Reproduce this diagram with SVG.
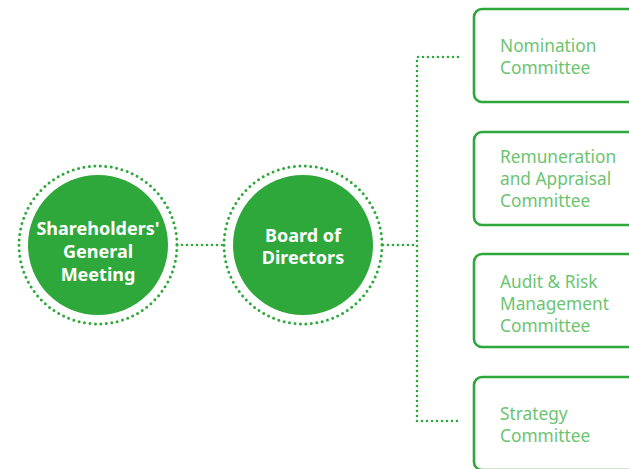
<svg xmlns="http://www.w3.org/2000/svg" width="629" height="469" viewBox="0 0 629 469">
<style>
.ring{fill:none;stroke:#2ea83a;stroke-width:3;stroke-linecap:round;stroke-dasharray:0 5.5}
.disc{fill:#2ea83a}
.ct{font-family:"Noto Sans","DejaVu Sans",sans-serif;font-weight:bold;font-size:18px;fill:#ffffff;text-anchor:middle}
.box{fill:#ffffff;stroke:#2ea83a;stroke-width:2.6}
.bt{font-family:"Noto Sans","DejaVu Sans",sans-serif;font-size:17.3px;fill:#6cc471}
.conn{fill:none;stroke:#2ea83a;stroke-width:2.6;stroke-linecap:round;stroke-dasharray:0 5}
</style>
<rect width="629" height="469" fill="#ffffff"/>
<g id="connectors">
<path class="conn" d="M177 245 H223"/>
<path class="conn" d="M383 245 H417"/>
<path class="conn" d="M458 57 H417 V421 H458"/>
</g>
<g id="shareholders">
<circle class="ring" cx="98" cy="245" r="79"/>
<circle class="disc" cx="98" cy="245" r="70"/>
<text class="ct" x="98" y="235">Shareholders'</text>
<text class="ct" x="98" y="258">General</text>
<text class="ct" x="98" y="281">Meeting</text>
</g>
<g id="board">
<circle class="ring" cx="303" cy="245" r="79"/>
<circle class="disc" cx="303" cy="245" r="70"/>
<text class="ct" x="303" y="242">Board of</text>
<text class="ct" x="303" y="264">Directors</text>
</g>
<g id="nomination">
<rect class="box" x="474" y="9" width="170" height="93" rx="8"/>
<text class="bt" x="500" y="52">Nomination</text>
<text class="bt" x="500" y="74">Committee</text>
</g>
<g id="remuneration">
<rect class="box" x="474" y="132" width="170" height="93" rx="8"/>
<text class="bt" x="500" y="163">Remuneration</text>
<text class="bt" x="500" y="185">and Appraisal</text>
<text class="bt" x="500" y="207">Committee</text>
</g>
<g id="audit">
<rect class="box" x="474" y="254" width="170" height="93" rx="8"/>
<text class="bt" x="500" y="288">Audit &amp; Risk</text>
<text class="bt" x="500" y="310">Management</text>
<text class="bt" x="500" y="332">Committee</text>
</g>
<g id="strategy">
<rect class="box" x="474" y="377" width="170" height="93" rx="8"/>
<text class="bt" x="500" y="420">Strategy</text>
<text class="bt" x="500" y="442">Committee</text>
</g>
</svg>
